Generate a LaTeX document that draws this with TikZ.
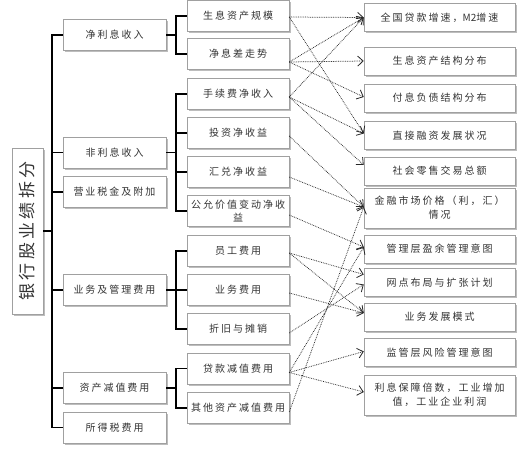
\documentclass[tikz,border=0pt]{standalone}
\usepackage{fontspec}
\setmainfont{Noto Sans CJK SC}[LetterSpace=20]
\newfontfamily\tightcjk{Noto Sans CJK SC}
\usetikzlibrary{calc,arrows.meta,shadows}
\definecolor{boxline}{HTML}{A0A0A0}
\definecolor{shade}{HTML}{BDBDBD}
\definecolor{txt}{HTML}{333333}
\begin{document}
\begin{tikzpicture}[x=1pt,y=-1pt,
  bx/.style={draw=boxline, line width=0.5pt, fill=white, text=txt, align=center, inner sep=1pt,
    font=\fontsize{10}{14}\selectfont,
    drop shadow={shadow xshift=1.6pt, shadow yshift=-1.6pt, fill=shade, opacity=1}},
  lvtwo/.style={bx, minimum width=103pt, minimum height=31pt},
  lvthree/.style={bx, minimum width=102pt, minimum height=31pt},
  lvfour/.style={bx, minimum width=151pt, minimum height=28pt},
  brk/.style={line width=1.8pt, black},
  dep/.style={densely dotted, line width=0.75pt, black!85,
    -{Straight Barb[length=5.5pt,width=10pt,line width=0.8pt]}}]
\useasboundingbox (0,0) rectangle (523,449);
\fill[white] (0,0) rectangle (523,449);

% level 1
\node[bx, minimum width=166pt, minimum height=31pt, rotate=90,
  font=\fontsize{17}{20}\selectfont] (m) at (27.5,231) {银行股业绩拆分};

% level 2
\node[lvtwo] (n1) at (114.5,35) {净利息收入};
\node[lvtwo] (n2) at (114.5,152.5) {非利息收入};
\node[lvtwo] (n3) at (114.5,192) {营业税金及附加};
\node[lvtwo] (n4) at (114.5,290) {业务及管理费用};
\node[lvtwo] (n5) at (114.5,388) {资产减值费用};
\node[lvtwo] (n6) at (114.5,427.5) {所得税费用};

% level 3
\node[lvthree] (a1) at (238,16) {生息资产规模};
\node[lvthree] (a2) at (238,54) {净息差走势};
\node[lvthree] (a3) at (238,94) {手续费净收入};
\node[lvthree] (a4) at (238,133) {投资净收益};
\node[lvthree] (a5) at (238,172) {汇兑净收益};
\node[lvthree, font=\fontsize{10}{13}\selectfont] (a6) at (238,211) {公允价值变动净收\\益};
\node[lvthree] (a7) at (238,251) {员工费用};
\node[lvthree] (a8) at (238,290) {业务费用};
\node[lvthree] (a9) at (238,329) {折旧与摊销};
\node[lvthree] (a10) at (238,368.5) {贷款减值费用};
\node[lvthree] (a11) at (238,408) {其他资产减值费用};

% level 4
\node[lvfour] (d1) at (439.5,17.5) {全国贷款增速，{\tightcjk M2}增速};
\node[lvfour] (d2) at (439.5,61) {生息资产结构分布};
\node[lvfour] (d3) at (439.5,98) {付息负债结构分布};
\node[lvfour] (d4) at (439.5,135.5) {直接融资发展状况};
\node[lvfour] (d5) at (439.5,171) {社会零售交易总额};
\node[lvfour, minimum height=40pt] (d6) at (439.5,208) {金融市场价格（利，汇）\\情况};
\node[lvfour] (d7) at (439.5,249) {管理层盈余管理意图};
\node[lvfour] (d8) at (439.5,282.5) {网点布局与扩张计划};
\node[lvfour] (d9) at (439.5,317) {业务发展模式};
\node[lvfour] (d10) at (439.5,352.5) {监管层风险管理意图};
\node[lvfour, minimum height=40pt] (d11) at (439.5,395) {利息保障倍数，工业增加\\值，工业企业利润};

% bracket columns
\coordinate (bx) at (52,0);
\coordinate (cx) at (176,0);

\draw[brk] (m.south) -- (m.south -| bx);
\draw[brk] (n1.west) -- (n1.west -| bx) -- (n6.west -| bx) -- (n6.west);
\foreach \k in {2,3,4,5} \draw[brk] (n\k.west) -- (n\k.west -| bx);

\draw[brk] (n1.east) -- (n1.east -| cx);
\draw[brk] (a1.west) -- (a1.west -| cx) -- (a2.west -| cx) -- (a2.west);

\draw[brk] (n2.east) -- (n2.east -| cx);
\draw[brk] (a3.west) -- (a3.west -| cx) -- (a6.west -| cx) -- (a6.west);
\foreach \k in {4,5} \draw[brk] (a\k.west) -- (a\k.west -| cx);

\draw[brk] (n4.east) -- (n4.east -| cx);
\draw[brk] (a7.west) -- (a7.west -| cx) -- (a9.west -| cx) -- (a9.west);
\draw[brk] (a8.west) -- (a8.west -| cx);

\draw[brk] (n5.east) -- (n5.east -| cx);
\draw[brk] (a10.west) -- (a10.west -| cx) -- (a11.west -| cx) -- (a11.west);

% dependency arrows
\draw[dep] ($(a1.east)+(0,1)$) -- ($(d1.west)+(0,0)$);
\draw[dep] ($(a1.east)+(0,1)$) -- ($(d4.west)+(0,-2)$);
\draw[dep] ($(a2.east)+(0,8)$) -- ($(d1.west)+(0,0)$);
\draw[dep] ($(a2.east)+(0,8)$) -- ($(d2.west)+(0,0)$);
\draw[dep] ($(a2.east)+(0,8)$) -- ($(d3.west)+(0,-1)$);
\draw[dep] ($(a3.east)+(0,3)$) -- ($(d1.west)+(0,0)$);
\draw[dep] ($(a3.east)+(0,3)$) -- ($(d4.west)+(0,-2)$);
\draw[dep] ($(a3.east)+(0,3)$) -- ($(d5.west)+(0,-6)$);
\draw[dep] ($(a4.east)+(0,3)$) -- ($(d6.west)+(0,-1)$);
\draw[dep] ($(a5.east)+(0,5)$) -- ($(d6.west)+(0,-1)$);
\draw[dep] ($(a6.east)+(0,4)$) -- ($(d7.west)+(0,-2)$);
\draw[dep] ($(a7.east)+(0,2)$) -- ($(d8.west)+(0,-8)$);
\draw[dep] ($(a7.east)+(0,2)$) -- ($(d9.west)+(0,-4)$);
\draw[dep] ($(a8.east)+(0,3)$) -- ($(d9.west)+(0,-4)$);
\draw[dep] ($(a9.east)+(0,4)$) -- ($(d8.west)+(0,2)$);
\draw[dep] ($(a10.east)+(0,4)$) -- ($(d7.west)+(0,-2)$);
\draw[dep] ($(a10.east)+(0,4)$) -- ($(d10.west)+(0,-1)$);
\draw[dep] ($(a10.east)+(0,4)$) -- ($(d11.west)+(0,-3)$);
\draw[dep] ($(a11.east)+(0,4)$) -- ($(d6.west)+(0,-1)$);
\end{tikzpicture}
\end{document}
